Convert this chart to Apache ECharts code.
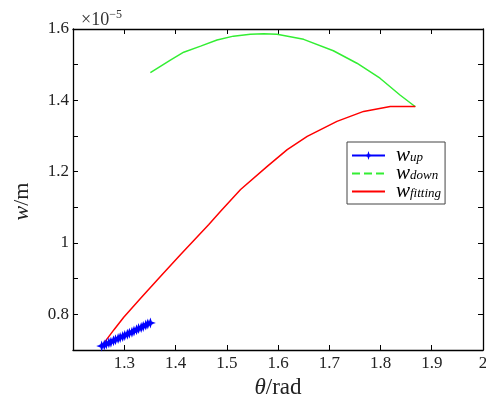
<!DOCTYPE html>
<html><head><meta charset="utf-8">
<script src="https://cdn.jsdelivr.net/npm/echarts@6/dist/echarts.min.js"></script>
<style>html,body{margin:0;padding:0;background:#fff}#c{width:486px;height:403px}</style>
</head><body><div id="c"></div>
<script>
const upData = [[1.256,0.711],[1.261,0.714],[1.265,0.717],[1.270,0.720],[1.274,0.722],[1.279,0.726],[1.283,0.729],[1.288,0.732],[1.292,0.735],[1.297,0.738],[1.301,0.741],[1.306,0.744],[1.310,0.747],[1.315,0.750],[1.319,0.753],[1.324,0.757],[1.328,0.760],[1.333,0.763],[1.337,0.766],[1.342,0.770],[1.346,0.773],[1.351,0.776]];
const downData = [[1.351,1.478],[1.390,1.513],[1.416,1.535],[1.449,1.552],[1.481,1.569],[1.513,1.580],[1.546,1.585],[1.572,1.587],[1.598,1.585],[1.650,1.571],[1.708,1.539],[1.754,1.504],[1.799,1.462],[1.838,1.415],[1.868,1.382]];
const fitData = [[1.256,0.711],[1.280,0.757],[1.299,0.792],[1.332,0.845],[1.371,0.907],[1.410,0.968],[1.465,1.052],[1.488,1.089],[1.527,1.150],[1.579,1.215],[1.618,1.262],[1.657,1.299],[1.715,1.341],[1.767,1.369],[1.819,1.383],[1.868,1.383]];
const seriesNames = ['w_up','w_down','w_fitting'];
const subs = {w_up:'up', w_down:'down', w_fitting:'fitting'};
const xTicks = {min:1.2, max:2, interval:0.1};
const yTicks = {min:0.7, max:1.6, interval:0.1};
const FONT = 'Liberation Serif';
const star = 'path://M0,-10 L2.5,-2.5 L10,0 L2.5,2.5 L0,10 L-2.5,2.5 L-10,0 L-2.5,-2.5 Z';

const chart = echarts.init(document.getElementById('c'), null, {renderer:'canvas'});
const axisCommon = {
  axisLine:{show:true, onZero:false, lineStyle:{color:'#000', width:1.3}},
  axisTick:{show:true, inside:true, length:5, lineStyle:{color:'#000', width:1}},
  splitLine:{show:false}
};
chart.setOption({
  animation:false,
  backgroundColor:'#fff',
  title:{text:'{a|×10}{b|−5}', left:76, top:4,
    textStyle:{rich:{a:{fontFamily:FONT, fontSize:18, fontWeight:'normal', color:'#333', verticalAlign:'bottom'}, b:{fontFamily:FONT, fontSize:12, fontWeight:'normal', color:'#333', verticalAlign:'top', padding:[0,0,8,0]}}}},
  grid:{left:73, right:3, top:29, bottom:53, containLabel:false, outerBoundsMode:'none'},
  legend:{
    orient:'vertical', left:347, top:142, padding:[2,4,2,4], itemGap:-4,
    itemWidth:33, itemHeight:11,
    borderColor:'#444', borderWidth:1, backgroundColor:'#fff',
    data:[
      {name:'w_up'},
      {name:'w_down', lineStyle:{type:'dashed'}, itemStyle:{opacity:0}},
      {name:'w_fitting', itemStyle:{opacity:0}}
    ],
    formatter:n => '{w|w}{s|' + subs[n] + '}',
    textStyle:{rich:{
      w:{fontFamily:FONT, fontStyle:'italic', fontSize:21, color:'#000', lineHeight:17, padding:[0,0,0,6]},
      s:{fontFamily:FONT, fontStyle:'italic', fontSize:13, color:'#000', verticalAlign:'bottom', lineHeight:11, padding:[7,0,0,0]}
    }}
  },
  xAxis:[
    Object.assign({type:'value', position:'bottom', min:xTicks.min, max:xTicks.max, interval:xTicks.interval,
      name:'{i|θ}{r|/rad}', nameLocation:'middle', nameGap:17,
      nameTextStyle:{rich:{i:{fontFamily:FONT, fontStyle:'italic', fontSize:23, color:'#222'}, r:{fontFamily:FONT, fontSize:23, color:'#222'}}},
      axisLabel:{fontFamily:FONT, fontSize:17, color:'#222', margin:5, showMinLabel:false,
        formatter:v => { const r = Math.round(v*10)/10; return r===2 ? '2' : r.toFixed(1); }}}, axisCommon),
    Object.assign({type:'value', position:'top', min:xTicks.min, max:xTicks.max, interval:xTicks.interval, axisLabel:{show:false}}, axisCommon)
  ],
  yAxis:[
    Object.assign({type:'value', position:'left', min:yTicks.min, max:yTicks.max, interval:yTicks.interval,
      name:'{i|w}{r|/m}', nameLocation:'middle', nameGap:40, nameRotate:90,
      nameTextStyle:{padding:[0,24,0,0], rich:{i:{fontFamily:FONT, fontStyle:'italic', fontSize:22, color:'#222'}, r:{fontFamily:FONT, fontSize:22, color:'#222'}}},
      axisLabel:{fontFamily:FONT, fontSize:17, color:'#222', margin:4,
        formatter:v => { const k = Math.round(v*10); if (k%2!==0) return ''; return k===10 ? '1' : (k/10).toFixed(1); }}}, axisCommon),
    Object.assign({type:'value', position:'right', min:yTicks.min, max:yTicks.max, interval:yTicks.interval, axisLabel:{show:false}}, axisCommon)
  ],
  series:[
    {name:'w_up', type:'line', data:upData, symbol:star, symbolSize:11, showSymbol:true,
      itemStyle:{color:'#0000ff'}, lineStyle:{color:'#0000ff', width:1.5}},
    {name:'w_down', type:'line', data:downData, symbol:'none',
      itemStyle:{color:'#33ee33'}, lineStyle:{color:'#33ee33', width:1.5}},
    {name:'w_fitting', type:'line', data:fitData, symbol:'none',
      itemStyle:{color:'#ff0000'}, lineStyle:{color:'#ff0000', width:1.5}}
  ]
});
</script></body></html>
